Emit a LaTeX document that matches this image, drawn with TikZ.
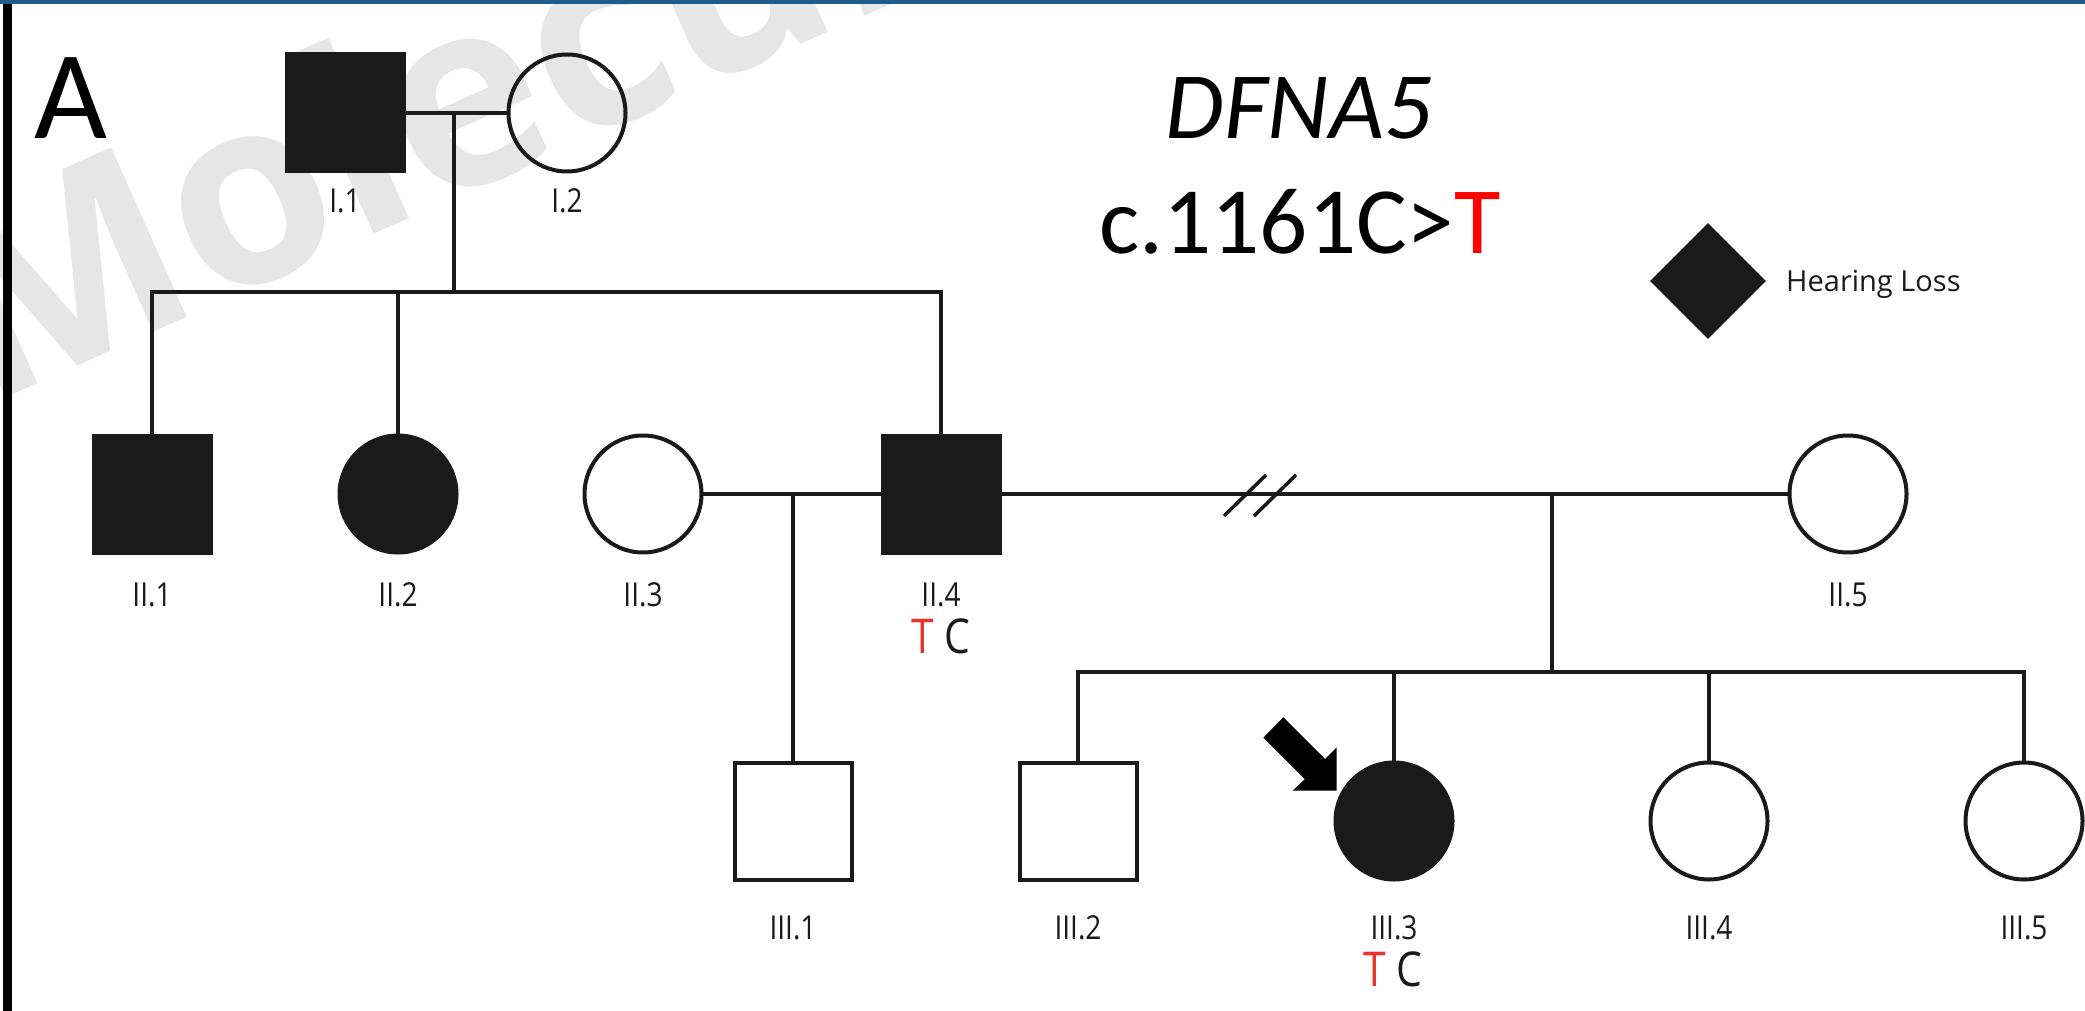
\documentclass[tikz,border=0pt]{standalone}
\usepackage{fontspec}
\setmainfont{Carlito}
\newfontfamily\labfont[FakeStretch=0.85]{Open Sans}
\newfontfamily\legfont{Open Sans}
\newfontfamily\wmfont{Open Sans}
\usetikzlibrary{shapes.geometric}
\definecolor{sym}{HTML}{1A1A1A}
\definecolor{topbar}{HTML}{1F5C8C}
\definecolor{wm}{HTML}{E6E6E6}
\definecolor{gtred}{HTML}{E8342A}
\begin{document}
\begin{tikzpicture}[x=1pt,y=-1pt,
  indiv/.style={draw=sym, line width=4pt, inner sep=0pt, outer sep=0pt},
  male/.style={indiv, rectangle, minimum size=117pt},
  female/.style={indiv, circle, minimum size=117pt},
  aff/.style={fill=sym},
  lab/.style={anchor=base, text=sym, inner sep=0pt, font=\labfont\fontsize{33}{33}\selectfont},
  gt/.style={anchor=base, text=sym, inner sep=0pt, font=\labfont\fontsize{48}{48}\selectfont},
  link/.style={draw=sym, line width=3.5pt},
]
\useasboundingbox (0,0) rectangle (2085,1011);
\fill[white] (0,0) rectangle (2085,1011);
% watermark
\begin{scope}
\clip (0,0) rectangle (2085,1011);
\node[rotate=24, anchor=base west, inner sep=0pt, text=wm, font=\wmfont\bfseries\fontsize{260}{260}\selectfont] (wmark) at (-16,408) {Molecular};
\end{scope}
% frame bits
\fill[topbar] (0,0) rectangle (2085,4.5);
\fill[black] (3,4.5) rectangle (12,1011);
% panel letter and title
\node[anchor=base, inner sep=0pt, font=\fontsize{126}{126}\selectfont] (A) at (71,139) {A};
\node[anchor=base, inner sep=0pt, font=\itshape\fontsize{95}{95}\selectfont] (title) at (1299,139) {DFNA5};
\node[anchor=base, inner sep=0pt, font=\fontsize{95}{95}\selectfont] (mut) at (1300,253) {c.1161C>\textcolor{red}{T}};
% legend
\node[diamond, fill=sym, inner sep=0pt, aspect=1, minimum width=116pt, minimum height=116pt] (legd) at (1708,281) {};
\node[anchor=base west, inner sep=0pt, text=sym, font=\legfont\fontsize{29}{29}\selectfont] (legt) at (1786,291) {Hearing Loss};
% individuals
\node[male,aff] (I1) at (345,113) {};
\node[female] (I2) at (567,113) {};
\node[male,aff] (II1) at (152,494) {};
\node[female,aff] (II2) at (398,494) {};
\node[female] (II3) at (643,494) {};
\node[male,aff] (II4) at (941,494) {};
\node[female] (II5) at (1848,494) {};
\node[male] (III1) at (793,821) {};
\node[male] (III2) at (1078,821) {};
\node[female,aff] (III3) at (1394,821) {};
\node[female] (III4) at (1709,821) {};
\node[female] (III5) at (2024,821) {};
% connectors generation I
\coordinate (m1) at (454,113);
\coordinate (s1) at (454,292);
\coordinate (s1L) at (152,292);
\coordinate (s1M) at (398,292);
\coordinate (s1R) at (941,292);
\draw[link] (I1.east) -- (I2.west);
\draw[link] (m1) -- (s1);
\draw[link] (II1.north) -- (s1L) -- (s1R) -- (II4.north);
\draw[link] (s1M) -- (II2.north);
% generation II
\coordinate (m2) at (793,494);
\draw[link] (II3.east) -- (II4.west);
\draw[link] (m2) -- (III1.north);
\draw[link] (II4.east) -- (II5.west);
\coordinate (b1a) at (1224,516);
\coordinate (b1b) at (1266,475);
\coordinate (b2a) at (1254,516);
\coordinate (b2b) at (1296,475);
\draw[link] (b1a) -- (b1b);
\draw[link] (b2a) -- (b2b);
\coordinate (m3) at (1552,494);
\coordinate (s3) at (1552,672);
\coordinate (s3L) at (1078,672);
\coordinate (s3a) at (1394,672);
\coordinate (s3b) at (1709,672);
\coordinate (s3R) at (2024,672);
\draw[link] (m3) -- (s3);
\draw[link] (III2.north) -- (s3L) -- (s3R) -- (III5.north);
\draw[link] (s3a) -- (III3.north);
\draw[link] (s3b) -- (III4.north);
% proband arrow
\fill[black] (1263.3,737.7) -- (1283.3,717.3) -- (1325,759) -- (1336.7,747.3) -- (1336.7,790.7) -- (1292.7,790.7) -- (1304.8,779.2) -- cycle;
% labels
\node[lab] (lI1) at (345,212) {I.1};
\node[lab] (lI2) at (567,212) {I.2};
\node[lab] (lII1) at (152,606) {II.1};
\node[lab] (lII2) at (398,606) {II.2};
\node[lab] (lII3) at (643,606) {II.3};
\node[lab] (lII4) at (941,606) {II.4};
\node[lab] (lII5) at (1848,606) {II.5};
\node[lab] (lIII1) at (793,939) {III.1};
\node[lab] (lIII2) at (1078,939) {III.2};
\node[lab] (lIII3) at (1394,939) {III.3};
\node[lab] (lIII4) at (1709,939) {III.4};
\node[lab] (lIII5) at (2024,939) {III.5};
\node[gt] (gII4) at (941,653) {\textcolor{gtred}{T} C};
\node[gt] (gIII3) at (1393,986) {\textcolor{gtred}{T} C};
\end{tikzpicture}
\end{document}
